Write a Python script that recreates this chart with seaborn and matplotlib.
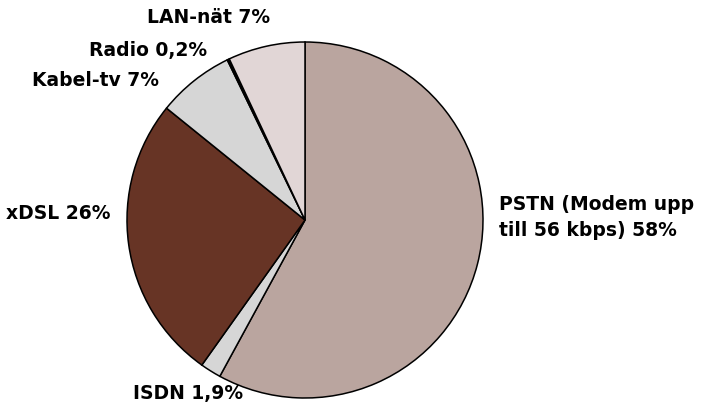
import matplotlib.pyplot as plt
import seaborn as sns

# Data
labels = ['PSTN (Modem upp\ntill 56 kbps) 58%', 'ISDN 1,9%', 'xDSL 26%',
          'Kabel-tv 7%', 'Radio 0,2%', 'LAN-nät 7%']
values = [58, 1.9, 26, 7, 0.2, 7]
colors = ['#BAA59F', '#D6D6D6', '#673425', '#D6D6D6', '#000000', '#E1D6D6']

# label placement (axes data coords, pie radius = 1)
label_pos = [(1.09, 0.02, 'left'), (-0.35, -0.97, 'right'), (-1.09, 0.04, 'right'),
             (-0.82, 0.79, 'right'), (-0.55, 0.96, 'right'), (-0.54, 1.145, 'center')]

sns.set_theme(style='white')
plt.rcParams['font.family'] = ['DejaVu Sans']

fig = plt.figure(figsize=(7.03, 4.10), dpi=100)
r = 178
cx, cy = 305, 221
ax = fig.add_axes([(cx - r) / 703, (410 - cy - r) / 410, 2 * r / 703, 2 * r / 410])

ax.pie(values, colors=colors, startangle=90, counterclock=False,
       wedgeprops=dict(edgecolor='black', linewidth=1.1))
ax.set_xlim(-1, 1)
ax.set_ylim(-1, 1)
ax.set_aspect('equal')
ax.axis('off')

for lab, (x, y, ha) in zip(labels, label_pos):
    ax.text(x, y, lab, ha=ha, va='center', fontsize=13.5, fontweight='bold',
            color='black', linespacing=1.45, clip_on=False)

fig.savefig('out.png', dpi=100)
